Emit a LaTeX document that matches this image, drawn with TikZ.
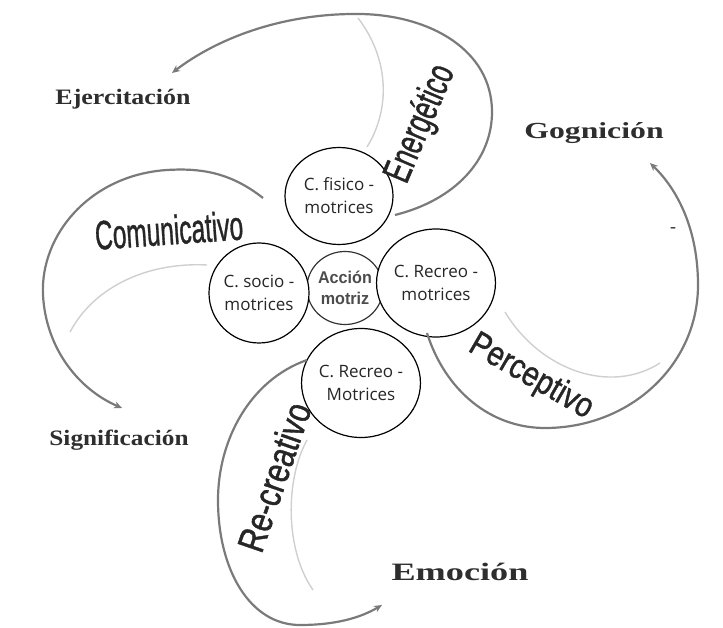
\documentclass[tikz,border=0pt]{standalone}
\usepackage{fontspec}
\setmainfont{Liberation Serif}
\newfontfamily\osans{Open Sans}
\newfontfamily\lsans{Liberation Sans}
\newfontfamily\lsansheavy[FakeBold=1.2]{Liberation Sans}
\usetikzlibrary{arrows.meta,shapes.geometric}
\definecolor{arcgray}{HTML}{7A7A7A}
\definecolor{ghost}{HTML}{CFCFCF}
\definecolor{lbl}{HTML}{2E2E2E}
\begin{document}
\begin{tikzpicture}[x=1pt,y=-1pt,
  flow/.style={draw=arcgray,line width=2.2pt,-{Stealth[length=8pt,width=7pt]}},
  echo/.style={draw=ghost,line width=1.4pt},
  compbox/.style={ellipse,draw=black,line width=1.2pt,fill=white,inner sep=0pt,
                 align=center,font=\osans\fontsize{17}{23}\selectfont,text=black!85},
  corebox/.style={ellipse,draw=black!80,line width=1.2pt,fill=white,inner sep=0pt,
               align=center,font=\lsans\bfseries\fontsize{17}{21}\selectfont,text=black!70},
  goal/.style={inner sep=0pt,text=lbl,font=\bfseries},
  aspect/.style={inner sep=0pt,text=black!85,font=\lsansheavy}
]
\useasboundingbox (0,0) rectangle (723,628);

% faint inner guide arcs
\draw[echo] (358,18) .. controls (390,60) and (390,110) .. (367,147);
\draw[echo] (207,265) .. controls (150,262) and (95,285) .. (70,332);
\draw[echo] (505,312) .. controls (540,370) and (610,395) .. (660,363);
\draw[echo] (307,440) .. controls (285,480) and (285,550) .. (313,590);

% central node and its four components
\node[corebox,minimum width=70pt,minimum height=73pt] (am) at (345,288) {\scalebox{0.95}[1]{Acción}\\\scalebox{0.95}[1]{motriz}};
\node[compbox,minimum width=108pt,minimum height=97pt] (fis) at (339,196) {C. fisico -\\motrices};
\node[compbox,minimum width=100pt,minimum height=100pt] (soc) at (259,293) {C. socio -\\motrices};
\node[compbox,minimum width=107pt,minimum height=108pt] (rec) at (436,283) {C. Recreo -\\motrices};
\node[compbox,minimum width=116pt,minimum height=109pt] (rcm) at (361,383) {C. Recreo -\\Motrices};

% outcome labels
\node[goal] (eje) at (123,99) {\fontsize{22}{22}\selectfont\scalebox{1.18}[1]{Ejercitación}};
\node[goal] (gog) at (594,133) {\fontsize{23}{23}\selectfont\scalebox{1.38}[1]{Gognición}};
\node[goal] (sig) at (119,440) {\fontsize{22}{22}\selectfont\scalebox{1.15}[1]{Significación}};
\node[goal] (emo) at (460,572) {\fontsize{25}{25}\selectfont\scalebox{1.45}[1]{Emoción}};
\node[inner sep=0pt,text=black!75,font=\bfseries\fontsize{18}{18}\selectfont] (dash) at (673,230) {-};

% end points of the swirling arrows
\coordinate (e1) at (395,215);
\coordinate (e2) at (172,73);
\coordinate (c1) at (263,198);
\coordinate (c2) at (122,408);
\coordinate (p1) at (427,333);
\coordinate (p2) at (650,163);
\coordinate (r1) at (307,360);
\coordinate (r2) at (382,605);

% swirling arrows
\draw[flow] (e1) .. controls (455,200) and (492,160) .. (492,112)
  .. controls (492,50) and (430,15) .. (360,14)
  .. controls (280,13) and (215,40) .. (e2);
\draw[flow] (c1) .. controls (230,172) and (200,168) .. (167,170)
  .. controls (90,175) and (40,235) .. (43,295)
  .. controls (46,350) and (80,390) .. (c2);
\draw[flow] (p1) .. controls (445,390) and (490,428) .. (545,428)
  .. controls (630,428) and (698,365) .. (698,285)
  .. controls (698,230) and (678,190) .. (p2);
\draw[flow] (r1) .. controls (250,380) and (218,440) .. (218,500)
  .. controls (218,570) and (250,625) .. (300,625)
  .. controls (335,625) and (360,618) .. (r2);

% aspect labels along the arrows
\node[aspect,rotate=67] (ene) at (421,124) {\fontsize{34}{34}\selectfont\scalebox{0.76}[1.15]{Energético}};
\node[aspect,rotate=4] (com) at (169,230) {\fontsize{34}{34}\selectfont\scalebox{0.72}[1.2]{Comunicativo}};
\node[aspect,rotate=-30] (per) at (531,377) {\fontsize{33}{33}\selectfont\scalebox{0.88}[1.05]{Perceptivo}};
\node[aspect,rotate=71] (rcr) at (274,477) {\fontsize{36}{36}\selectfont\scalebox{0.84}[1.05]{Re-creativo}};
\end{tikzpicture}
\end{document}
